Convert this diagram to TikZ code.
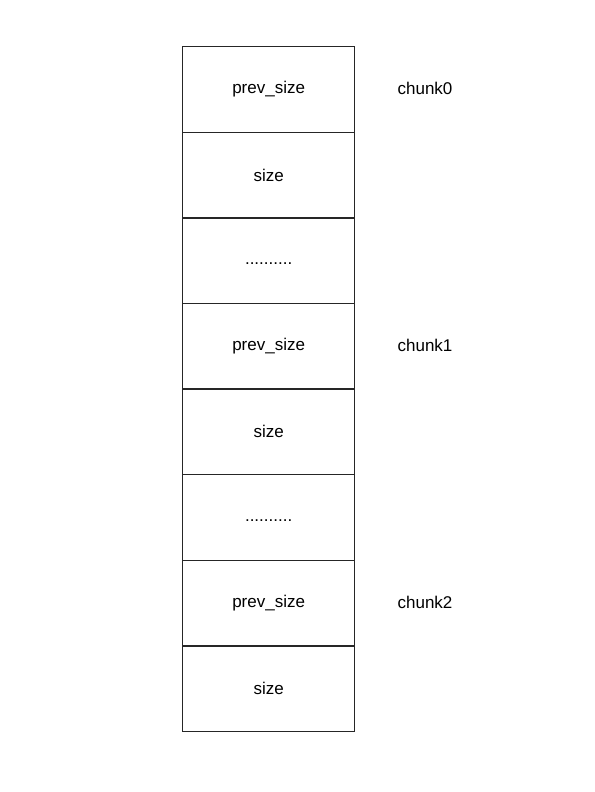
\documentclass[tikz,border=0pt]{standalone}
\usepackage{fontspec}
\setmainfont{Liberation Sans}
\begin{document}
\begin{tikzpicture}[x=1pt,y=-1pt,
  cell/.style={draw=black!85,line width=1.3pt,minimum width=172pt,minimum height=85.6pt,inner sep=0pt,anchor=north west,font=\fontsize{17}{20}\selectfont},
  lbl/.style={font=\fontsize{17}{20}\selectfont,inner sep=0pt}]
\useasboundingbox (0,0) rectangle (594,792);
\node[cell] (c1) at (182,46) {prev\_size};
\node[cell] (c2) at (182,131.6) {size};
\node[cell] (c3) at (182,217.2) {\vphantom{Ag}..........};
\node[cell] (c4) at (182,302.8) {prev\_size};
\node[cell] (c5) at (182,388.4) {size};
\node[cell] (c6) at (182,474) {\vphantom{Ag}..........};
\node[cell] (c7) at (182,559.6) {prev\_size};
\node[cell] (c8) at (182,645.2) {size};
\node[lbl] (l0) at (425,88.8) {chunk0};
\node[lbl] (l1) at (425,345.6) {chunk1};
\node[lbl] (l2) at (425,602.4) {chunk2};
\end{tikzpicture}
\end{document}
